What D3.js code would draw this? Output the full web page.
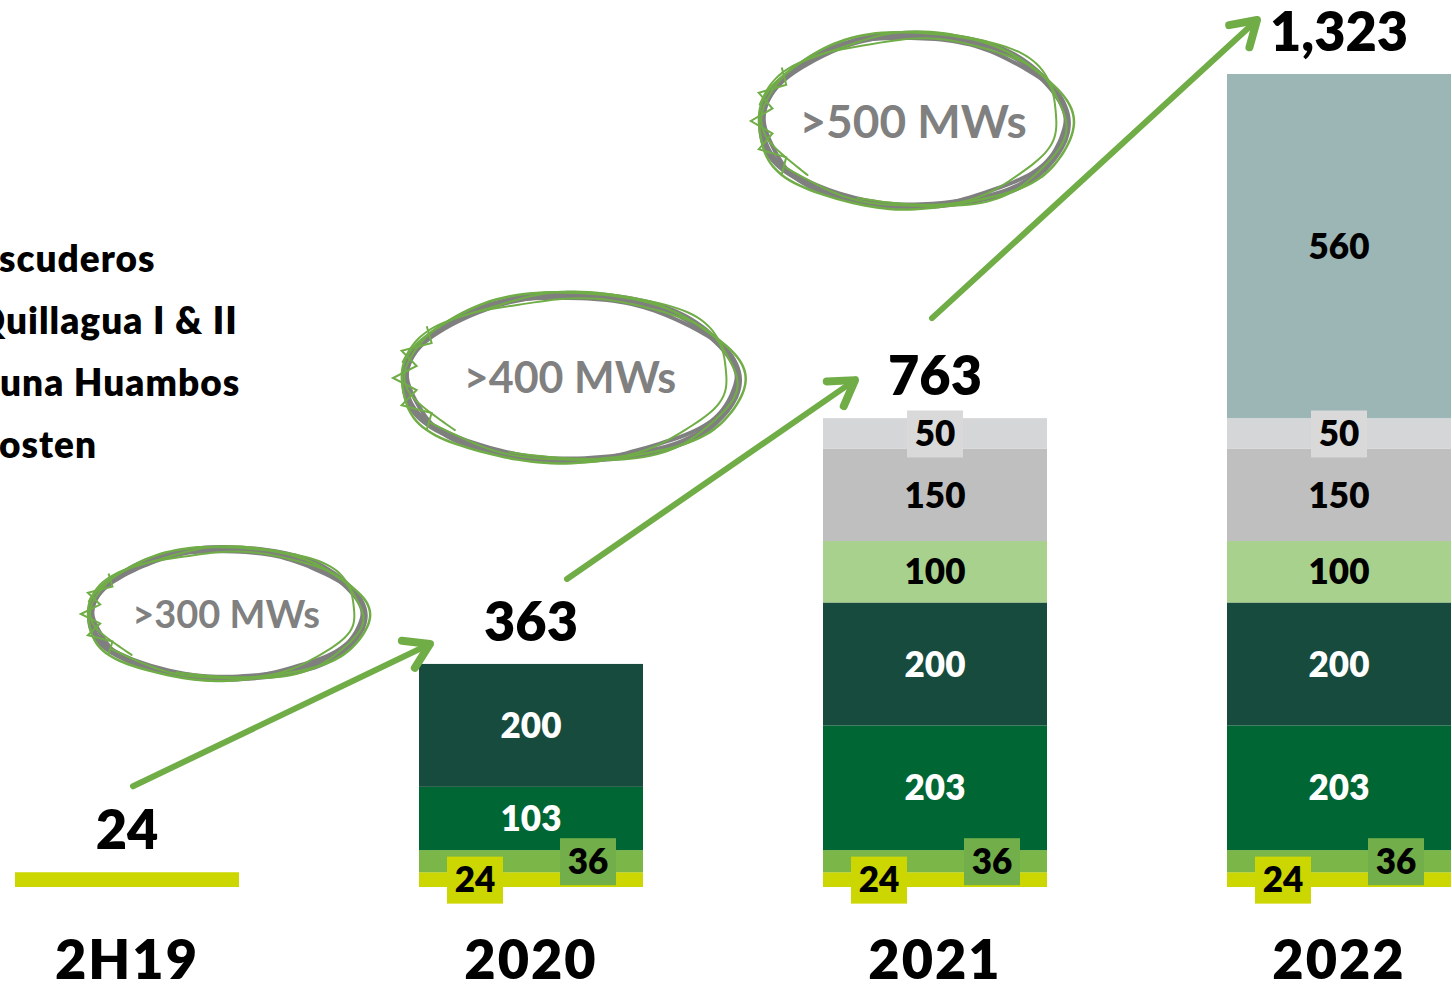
<!DOCTYPE html>
<html lang="en">
<head>
  <meta charset="UTF-8">
  <title>MW growth</title>
  <style>
    html, body { margin: 0; padding: 0; background: #fff; }
    svg { display: block; font-family: Lato, "Open Sans", sans-serif; }
  </style>
</head>
<body>
<svg id="chart"></svg>
<script src="https://cdn.jsdelivr.net/npm/d3@7/dist/d3.min.js"></script>
<script>
// data
const categories = ['2H19', '2020', '2021', '2022'];
const seriesNames = ['s24', 's36', 's203', 's200', 's100', 's150', 's50', 's560'];
const s24  = [24, 24, 24, 24];
const s36  = [0, 36, 36, 36];
const s203 = [0, 103, 203, 203];
const s200 = [0, 200, 200, 200];
const s100 = [0, 0, 100, 100];
const s150 = [0, 0, 150, 150];
const s50  = [0, 0, 50, 50];
const s560 = [0, 0, 0, 560];
// legend entries: hidden part (off the left edge) + visible part
const legendHidden = ['E', 'Q', 'Lag', 'B'];
const legendShown = ['scuderos', 'uillagua I & II', 'una Huambos', 'osten'];
const calloutLabels = ['>300 MWs', '>400 MWs', '>500 MWs'];

const seriesValues = [s24, s36, s203, s200, s100, s150, s50, s560];
const colors = {
  s24: '#CCD600', s36: '#7AB648', s203: '#006633', s200: '#174B3D',
  s100: '#A9D18E', s150: '#BFBFBF', s50: '#D5D6D8', s560: '#9CB6B5'
};
const textColors = {
  s24: '#000', s36: '#000', s203: '#fff', s200: '#fff',
  s100: '#000', s150: '#000', s50: '#000', s560: '#000'
};
// small value boxes (offset from bar centre)
const boxes = { s24: { dx: -56, fill: '#CCD600' }, s36: { dx: 57, fill: '#72AE4A' }, s50: { dx: 0, fill: '#D9D9D9' } };

const width = 1452, height = 990;
const svg = d3.select('#chart').attr('width', width).attr('height', height);

// table for stacking
const table = categories.map((c, i) => {
  const row = { cat: c };
  seriesNames.forEach((s, j) => row[s] = seriesValues[j][i]);
  return row;
});
const totals = table.map(r => d3.sum(seriesNames, s => r[s]));
const stacked = d3.stack().keys(seriesNames)(table);

const x = d3.scaleBand().domain(categories).range([15, 1451]).paddingInner(180 / 404).paddingOuter(0);
const y = d3.scaleLinear().domain([0, d3.max(totals)]).range([887, 74]);
const cx = c => x(c) + x.bandwidth() / 2;

// bars
const layers = svg.append('g').selectAll('g')
  .data(stacked)
  .enter()
  .append('g')
  .attr('fill', d => colors[d.key]);

layers.selectAll('rect')
  .data(d => d.map(p => Object.assign(p, { key: d.key })))
  .enter()
  .filter(d => d[1] - d[0] > 0)
  .append('rect')
  .attr('x', d => x(d.data.cat))
  .attr('width', x.bandwidth())
  .attr('y', d => y(d[1]))
  .attr('height', d => y(d[0]) - y(d[1]));

// segment labels
const segs = [];
stacked.forEach(layer => layer.forEach(p => {
  if (p[1] - p[0] > 0 && p.data.cat !== categories[0]) segs.push(p);
}));

const lab = svg.append('g').selectAll('g')
  .data(segs)
  .enter()
  .append('g')
  .attr('transform', d => {
    const b = boxes[d.key];
    return `translate(${cx(d.data.cat) + (b ? b.dx : 0)}, ${(y(d[0]) + y(d[1])) / 2})`;
  });

lab.filter(d => boxes[d.key])
  .append('rect')
  .attr('x', -28).attr('y', -23)
  .attr('width', 56).attr('height', 47)
  .attr('fill', d => boxes[d.key].fill);

lab.append('text')
  .attr('text-anchor', 'middle')
  .attr('dy', '0.36em')
  .attr('font-size', 35)
  .attr('font-weight', 800)
  .attr('fill', d => textColors[d.key])
  .text(d => d[1] - d[0]);

// totals
svg.append('g').selectAll('text')
  .data(categories)
  .enter()
  .append('text')
  .attr('x', d => cx(d))
  .attr('y', (d, i) => y(totals[i]) - 23)
  .attr('text-anchor', 'middle')
  .attr('font-size', 54)
  .attr('font-weight', 800)
  .attr('fill', '#000')
  .text((d, i) => d3.format(',')(totals[i]));

// category labels
svg.append('g').selectAll('text')
  .data(categories)
  .enter()
  .append('text')
  .attr('x', d => cx(d))
  .attr('y', 979)
  .attr('text-anchor', 'middle')
  .attr('font-size', 54)
  .attr('font-weight', 800)
  .attr('letter-spacing', 2)
  .attr('fill', '#000')
  .text(d => d);

// legend (its swatches and first letters sit off the left edge)
const legendStart = [0, 7, 1, 0];
const leg = svg.append('g').selectAll('text')
  .data(legendShown)
  .enter()
  .append('text')
  .attr('y', (d, i) => 272 + i * 62)
  .attr('font-size', 37)
  .attr('font-weight', 800)
  .attr('letter-spacing', 1)
  .attr('fill', '#000');
leg.append('tspan').text((d, i) => legendHidden[i]);
leg.append('tspan').text(d => d);
leg.attr('x', function(d, i) {
  const t = d3.select(this).select('tspan').node();
  const pre = t.getComputedTextLength() + 1;
  return legendStart[i] - pre;
});

// arrows between totals
const green = '#70AD47';
svg.append('defs').append('marker')
  .attr('id', 'head')
  .attr('markerUnits', 'userSpaceOnUse')
  .attr('markerWidth', 60).attr('markerHeight', 60)
  .attr('refX', 30).attr('refY', 30)
  .attr('viewBox', '0 0 60 60')
  .attr('orient', 'auto')
  .append('path')
  .attr('d', 'M6,15 L30,30 L6,45')
  .attr('fill', 'none')
  .attr('stroke', green)
  .attr('stroke-width', 8)
  .attr('stroke-linecap', 'round')
  .attr('stroke-linejoin', 'round');

const arrowOffsets = [
  { sx: 6, sy: -86, ex: -101, ey: -20 },
  { sx: 36, sy: -85, ex: -80, ey: -38 },
  { sx: -3, sy: -100, ex: -82, ey: -54 }
];
svg.append('g').selectAll('line')
  .data(arrowOffsets)
  .enter()
  .append('line')
  .attr('x1', (d, i) => cx(categories[i]) + d.sx)
  .attr('y1', (d, i) => y(totals[i]) + d.sy)
  .attr('x2', (d, i) => cx(categories[i + 1]) + d.ex)
  .attr('y2', (d, i) => y(totals[i + 1]) + d.ey)
  .attr('stroke', green)
  .attr('stroke-width', 6)
  .attr('stroke-linecap', 'round')
  .attr('marker-end', 'url(#head)');

// hand drawn callout ellipses
const ellipses = [
  { cx: 226, cy: 614, rx: 137, ry: 65, fs: 38 },
  { cx: 570, cy: 378, rx: 167, ry: 83, fs: 43 },
  { cx: 913, cy: 121, rx: 153, ry: 86, fs: 46 }
];
const strokes = [
  { c: '#7F7F7F', w: 7, a: 0.012, p: 0.3, s: 1.00, t0: 0.2, t1: 6.9 },
  { c: '#7F7F7F', w: 4, a: 0.02, p: 2.1, s: 0.985, t0: 1.5, t1: 7.6 },
  { c: green, w: 2.5, a: 0.02, p: 1.0, s: 1.03, t0: 0.6, t1: 7.0 },
  { c: green, w: 2, a: 0.025, p: 4.0, s: 0.965, t0: 2.4, t1: 8.3 },
  { c: green, w: 2, a: 0.03, p: 5.2, s: 1.015, t0: 3.3, t1: 8.9 }
];
const sketch = d3.line().curve(d3.curveBasis);
const callouts = svg.append('g').selectAll('g')
  .data(ellipses)
  .enter()
  .append('g');

callouts.each(function(e, i) {
  const g = d3.select(this);
  strokes.forEach(st => {
    const pts = d3.range(st.t0, st.t1, 0.08).map(t => {
      const r = st.s + st.a * Math.sin(3 * t + st.p) + 0.6 * st.a * Math.cos(7 * t + st.p);
      return [e.cx + e.rx * r * Math.cos(t), e.cy + e.ry * r * Math.sin(t + 0.04 * Math.sin(t + st.p))];
    });
    g.append('path')
      .attr('d', sketch(pts))
      .attr('fill', 'none')
      .attr('stroke', st.c)
      .attr('stroke-width', st.w)
      .attr('stroke-linecap', 'round');
  });
  // scribbles on left side
  const zig = d3.range(0, 9).map(k => {
    const t = Math.PI * (0.8 + k * 0.05);
    const r = k % 2 ? 0.93 : 1.06;
    return [e.cx + e.rx * r * Math.cos(t), e.cy + e.ry * r * Math.sin(t)];
  });
  g.append('path')
    .attr('d', d3.line()(zig))
    .attr('fill', 'none')
    .attr('stroke', green)
    .attr('stroke-width', 2);
  g.append('text')
    .attr('x', e.cx)
    .attr('y', e.cy)
    .attr('dy', '0.36em')
    .attr('text-anchor', 'middle')
    .attr('font-size', e.fs)
    .attr('font-weight', 700)
    .attr('fill', '#808080')
    .text(calloutLabels[i]);
});
</script>
</body>
</html>
